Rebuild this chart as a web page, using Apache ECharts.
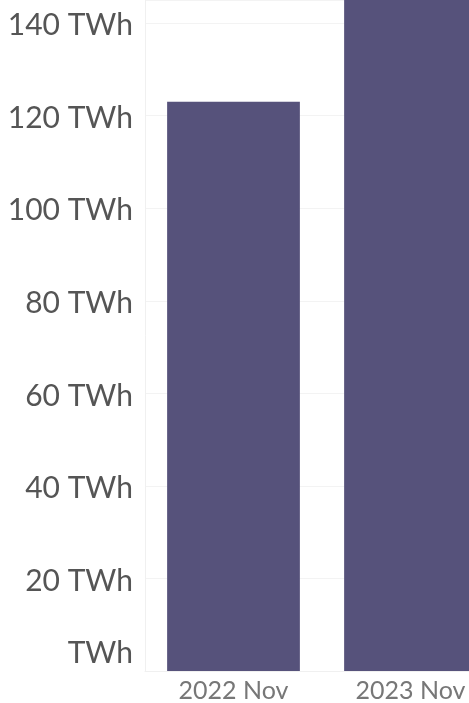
<!DOCTYPE html>
<html>
<head>
<meta charset="utf-8">
<script src="https://cdn.jsdelivr.net/npm/echarts@6/dist/echarts.min.js"></script>
<style>
  html, body { margin: 0; padding: 0; background: #fff; overflow: hidden; width: 469px; height: 703px; }
  /* the plot runs past the right edge of the window, so the canvas is wider */
  #main { width: 499px; height: 703px; }
</style>
</head>
<body>
<div id="main"></div>
<script>
var months = ['2022 Nov', '2023 Nov'];
var generation = [123, 150];

var chart = echarts.init(document.getElementById('main'));

var option = {
  animation: false,
  grid: {
    left: 145,
    top: 0,
    bottom: 31,
    right: 0
  },
  xAxis: {
    type: 'category',
    data: months,
    axisLine: { show: true, lineStyle: { color: '#f0f0f0' } },
    axisTick: { show: false },
    axisLabel: {
      color: '#777',
      fontFamily: 'Lato',
      fontSize: 25,
      margin: 7
    }
  },
  yAxis: {
    type: 'value',
    min: 0,
    max: 145,
    interval: 20,
    axisLine: { show: true, lineStyle: { color: '#f0f0f0' } },
    axisTick: { show: false },
    splitLine: { lineStyle: { color: '#f3f3f3' } },
    axisLabel: {
      showMaxLabel: false,
      color: '#555',
      fontFamily: 'Lato',
      fontSize: 30,
      margin: 12,
      padding: [5, 0, 0, 0],
      formatter: function (v) {
        if (v === 0) return '{z|TWh}';
        return v + ' TWh';
      },
      rich: {
        z: { color: '#555', fontFamily: 'Lato', fontSize: 30, padding: [0, 0, 40, 0] }
      }
    }
  },
  series: [{
    type: 'bar',
    data: generation,
    barCategoryGap: '25%',
    itemStyle: { color: '#56527b' }
  }]
};

chart.setOption(option);
</script>
</body>
</html>
